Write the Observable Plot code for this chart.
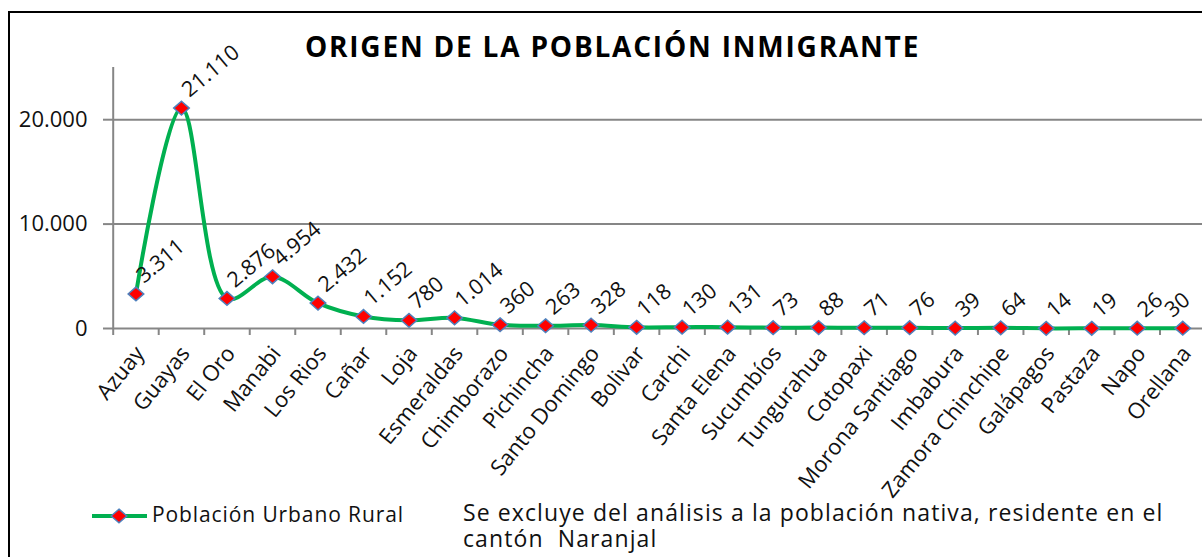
<!DOCTYPE html>
<html>
<head>
<meta charset="utf-8">
<script src="https://cdn.jsdelivr.net/npm/d3@7"></script>
<script src="https://cdn.jsdelivr.net/npm/@observablehq/plot@0.6"></script>
<style>
  html, body { margin: 0; padding: 0; background: #fff; overflow: hidden; }
  #wrap { position: relative; width: 1202px; height: 557px; font-family: "Open Sans", sans-serif; color: #000; }
  #frame { position: absolute; left: 8px; top: 11px; width: 1400px; height: 800px; border-left: 2px solid #000; border-top: 2px solid #000; }
  #title { position: absolute; left: 0; width: 1225px; top: 32px; text-align: center; font-weight: 700; font-size: 28px; line-height: 1; letter-spacing: 1.8px; white-space: nowrap; }
  #chart { position: absolute; left: 0; top: 60px; }
  #legend-swatch { position: absolute; left: 91px; top: 506px; }
  #legend-text { position: absolute; left: 152px; top: 504.4px; font-size: 21px; line-height: 1; letter-spacing: 0.9px; white-space: nowrap; color: #111; }
  #caption { position: absolute; left: 463px; top: 499px; font-size: 23px; line-height: 26.3px; letter-spacing: 1.1px; white-space: pre; color: #111; }
</style>
</head>
<body>
<div id="wrap">
  <div id="title"></div>
  <div id="chart"></div>
  <svg id="legend-swatch" width="58" height="20"></svg>
  <div id="legend-text"></div>
  <div id="caption"></div>
  <div id="frame"></div>
</div>
<script>
// ---- data ----
const titleText = "ORIGEN DE LA POBLACIÓN INMIGRANTE";
const seriesName = "Población Urbano Rural";
const noteLines = ["Se excluye del análisis a la población nativa, residente en el", "cantón  Naranjal"];
const categories = ["Azuay", "Guayas", "El Oro", "Manabi", "Los Rios", "Cañar", "Loja", "Esmeraldas",
  "Chimborazo", "Pichincha", "Santo Domingo", "Bolivar", "Carchi", "Santa Elena", "Sucumbíos",
  "Tungurahua", "Cotopaxi", "Morona Santiago", "Imbabura", "Zamora Chinchipe", "Galápagos",
  "Pastaza", "Napo", "Orellana"];
const values = [3311, 21110, 2876, 4954, 2432, 1152, 780, 1014, 360, 263, 328, 118, 130, 131,
  73, 88, 71, 76, 39, 64, 14, 19, 26, 30];
const yTicks = [0, 10000, 20000];
const yMax = 25000;

// ---- build ----
const n = categories.length;
const data = categories.map((c, i) => ({i, c, v: values[i]}));
const esLocale = d3.formatLocale({decimal: ",", thousands: ".", grouping: [3], currency: ["$", ""]});
const fmt = esLocale.format(",d");
const bounds = d3.range(n + 1).map(i => i - 0.5);

const green = "#00B050", red = "#FF0000", blueEdge = "#4F81BD", gray = "#868686";
const diamond = {
  draw(ctx, size) {
    const r = Math.sqrt(size / Math.PI), h = r * 0.88;
    ctx.moveTo(0, -h); ctx.lineTo(r, 0); ctx.lineTo(0, h); ctx.lineTo(-r, 0); ctx.closePath();
  }
};

const chart = Plot.plot({
  width: 1202,
  height: 430,
  marginLeft: 113,
  marginRight: 0,
  marginTop: 7,
  marginBottom: 162,
  style: {background: "transparent", overflow: "visible", fontFamily: "'Open Sans', sans-serif", fontSize: "20px", color: "#000"},
  x: {type: "linear", domain: [-0.5, n - 0.5], range: [112.7, 1205]},
  y: {domain: [0, yMax]},
  marks: [
    Plot.gridY(yTicks.filter(d => d > 0), {stroke: gray, strokeOpacity: 1, strokeWidth: 2}),
    Plot.ruleY([0], {stroke: gray, strokeWidth: 2}),
    Plot.ruleX([-0.5], {y1: 0, y2: yMax, stroke: gray, strokeWidth: 2}),
    Plot.axisY(yTicks, {tickSize: 10, tickPadding: 16, tickFormat: fmt, stroke: gray, strokeWidth: 2, fill: "#111", fontSize: 22, label: null}),
    Plot.axisX(bounds, {tickSize: 7, text: null, stroke: gray, strokeWidth: 2, label: null}),
    Plot.axisX(d3.range(n), {tickSize: 0, tickPadding: 21, dx: 4, tickRotate: -51, tickFormat: i => categories[i], fill: "#111", fontSize: 22, label: null}),
    Plot.line(data, {x: "i", y: "v", curve: "catmull-rom", stroke: green, strokeWidth: 4}),
    Plot.dot(data, {x: "i", y: "v", symbol: diamond, r: 7.8, fill: red, stroke: blueEdge, strokeWidth: 1.5}),
    Plot.text(data, {x: d => Math.min(d.i, n - 1.4), y: "v", text: d => fmt(d.v), rotate: -40, textAnchor: "start", lineAnchor: "bottom", dx: 8, dy: -10, fontSize: 21.5, fill: "#111"})
  ]
});
document.getElementById("chart").appendChild(chart);

document.getElementById("title").textContent = titleText;
document.getElementById("legend-text").textContent = seriesName;
document.getElementById("caption").textContent = noteLines.join("\n");

// legend swatch
const sw = d3.select("#legend-swatch");
sw.append("line").attr("x1", 1).attr("x2", 56).attr("y1", 10).attr("y2", 10).attr("stroke", green).attr("stroke-width", 4);
sw.append("path").attr("d", d3.symbol(diamond, Math.PI * 7.8 * 7.8)()).attr("transform", "translate(28,10)")
  .attr("fill", red).attr("stroke", blueEdge).attr("stroke-width", 1.5);
</script>
</body>
</html>
